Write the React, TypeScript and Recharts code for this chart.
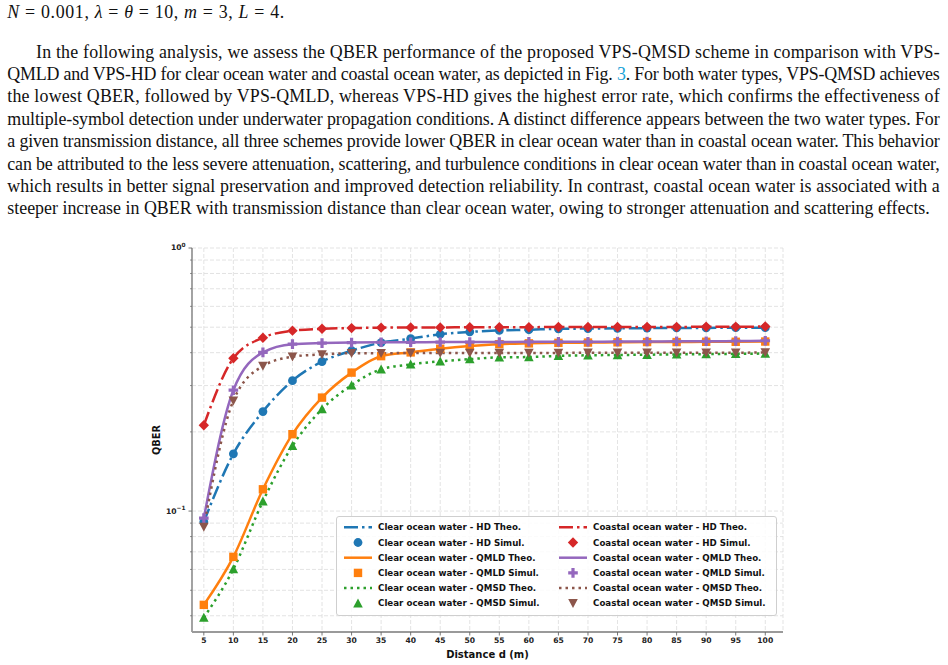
import React from 'react';
import { ComposedChart, Line, XAxis, YAxis, CartesianGrid, Legend } from 'recharts';

// ---------------- data ----------------
const distance = [5, 10, 15, 20, 25, 30, 35, 40, 45, 50, 55, 60, 65, 70, 75, 80, 85, 90, 95, 100];

const clearHD = [0.091, 0.165, 0.239, 0.313, 0.37, 0.407, 0.437, 0.452, 0.47, 0.48, 0.486, 0.489, 0.493, 0.494, 0.495, 0.496, 0.497, 0.497, 0.498, 0.498];
const clearQMLD = [0.044, 0.067, 0.121, 0.196, 0.27, 0.336, 0.388, 0.401, 0.414, 0.424, 0.431, 0.434, 0.436, 0.437, 0.438, 0.439, 0.439, 0.44, 0.44, 0.441];
const clearQMSD = [0.0394, 0.0602, 0.109, 0.177, 0.244, 0.301, 0.346, 0.361, 0.371, 0.378, 0.384, 0.385, 0.389, 0.391, 0.392, 0.393, 0.394, 0.395, 0.396, 0.397];
const coastalHD = [0.212, 0.381, 0.456, 0.485, 0.493, 0.496, 0.498, 0.499, 0.499, 0.5, 0.5, 0.5, 0.501, 0.501, 0.501, 0.501, 0.501, 0.502, 0.502, 0.503];
const coastalQMLD = [0.094, 0.288, 0.401, 0.431, 0.435, 0.437, 0.438, 0.438, 0.439, 0.439, 0.439, 0.44, 0.44, 0.44, 0.441, 0.441, 0.442, 0.442, 0.443, 0.444];
const coastalQMSD = [0.087, 0.263, 0.356, 0.386, 0.394, 0.398, 0.398, 0.399, 0.399, 0.399, 0.399, 0.399, 0.399, 0.4, 0.4, 0.4, 0.4, 0.4, 0.4, 0.401];

const xTicks = [5, 10, 15, 20, 25, 30, 35, 40, 45, 50, 55, 60, 65, 70, 75, 80, 85, 90, 95, 100];
const yTicks = [0.04, 0.05, 0.06, 0.07, 0.08, 0.09, 0.1, 0.2, 0.3, 0.4, 0.5, 0.6, 0.7, 0.8, 0.9, 1];
const yMajor = [
  { value: 0.1, base: '10', exp: '\u22121' },
  { value: 1, base: '10', exp: '0' },
];

const seriesNames = [
  'Clear ocean water - HD',
  'Clear ocean water - QMLD',
  'Clear ocean water - QMSD',
  'Coastal ocean water - HD',
  'Coastal ocean water - QMLD',
  'Coastal ocean water - QMSD',
];
const theoSuffix = ' Theo.';
const simSuffix = ' Simul.';
const xLabel = 'Distance d (m)';
const yLabel = 'QBER';

const paragraphLines = [
  'In the following analysis, we assess the QBER performance of the proposed VPS-QMSD scheme in comparison with VPS-',
  'QMLD and VPS-HD for clear ocean water and coastal ocean water, as depicted in Fig. |3|. For both water types, VPS-QMSD achieves',
  'the lowest QBER, followed by VPS-QMLD, whereas VPS-HD gives the highest error rate, which confirms the effectiveness of',
  'multiple-symbol detection under underwater propagation conditions. A distinct difference appears between the two water types. For',
  'a given transmission distance, all three schemes provide lower QBER in clear ocean water than in coastal ocean water. This behavior',
  'can be attributed to the less severe attenuation, scattering, and turbulence conditions in clear ocean water than in coastal ocean water,',
  'which results in better signal preservation and improved detection reliability. In contrast, coastal ocean water is associated with a',
  'steeper increase in QBER with transmission distance than clear ocean water, owing to stronger attenuation and scattering effects.',
];

// ---------------- styles ----------------
type MarkerKind = 'circle' | 'square' | 'diamond' | 'plus' | 'triUp' | 'triDown';
const DASHDOT = '14 4 2.5 4';
const DOTTED = '2.5 4';
const seriesStyle: { key: string; color: string; dash?: string; marker: MarkerKind }[] = [
  { key: 'clearHD', color: '#1f77b4', dash: DASHDOT, marker: 'circle' },
  { key: 'clearQMLD', color: '#ff7f0e', dash: undefined, marker: 'square' },
  { key: 'clearQMSD', color: '#2ca02c', dash: DOTTED, marker: 'triUp' },
  { key: 'coastalHD', color: '#d62728', dash: DASHDOT, marker: 'diamond' },
  { key: 'coastalQMLD', color: '#9467bd', dash: undefined, marker: 'plus' },
  { key: 'coastalQMSD', color: '#8c564b', dash: DOTTED, marker: 'triDown' },
];

const data = distance.map((d, i) => ({
  d,
  clearHD: clearHD[i],
  clearQMLD: clearQMLD[i],
  clearQMSD: clearQMSD[i],
  coastalHD: coastalHD[i],
  coastalQMLD: coastalQMLD[i],
  coastalQMSD: coastalQMSD[i],
}));

const FONT = "'DejaVu Sans', sans-serif";
const SERIF = "'Liberation Serif', 'Times New Roman', serif";

function markerShape(kind: MarkerKind, cx: number, cy: number, color: string, key?: string) {
  switch (kind) {
    case 'circle':
      return <circle key={key} cx={cx} cy={cy} r={4.4} fill={color} />;
    case 'square':
      return <rect key={key} x={cx - 4.2} y={cy - 4.2} width={8.4} height={8.4} fill={color} />;
    case 'diamond':
      return (
        <polygon key={key} points={`${cx},${cy - 5.2} ${cx + 5.2},${cy} ${cx},${cy + 5.2} ${cx - 5.2},${cy}`} fill={color} />
      );
    case 'plus': {
      const a = 4.8;
      const b = 1.6;
      const d = `M${cx - b},${cy - a}H${cx + b}V${cy - b}H${cx + a}V${cy + b}H${cx + b}V${cy + a}H${cx - b}V${cy + b}H${cx - a}V${cy - b}H${cx - b}Z`;
      return <path key={key} d={d} fill={color} />;
    }
    case 'triUp':
      return <polygon key={key} points={`${cx},${cy - 4.8} ${cx + 4.8},${cy + 4.2} ${cx - 4.8},${cy + 4.2}`} fill={color} />;
    case 'triDown':
    default:
      return <polygon key={key} points={`${cx},${cy + 4.8} ${cx + 4.8},${cy - 4.2} ${cx - 4.8},${cy - 4.2}`} fill={color} />;
  }
}

const YTick = (props: any) => {
  const { x, y, payload } = props;
  const axisX = x + 3.5 + 3;
  const major = yMajor.find((m) => Math.abs(m.value - payload.value) < 1e-9);
  return (
    <g>
      <line x1={axisX - (major ? 3.5 : 2)} x2={axisX} y1={y} y2={y} stroke="#666" strokeWidth={major ? 0.9 : 0.7} />
      {major ? (
        <text x={x} y={y} dy="0.32em" textAnchor="end" fontFamily={FONT} fontWeight="bold" fontSize={7.6} fill="#222">
          <tspan>{major.base}</tspan>
          <tspan dy="-0.55em" fontSize={5.8}>{major.exp}</tspan>
        </text>
      ) : null}
    </g>
  );
};

const renderYLabel = (props: any) => {
  const vb = props.viewBox || { x: 150, y: 248, width: 42, height: 384 };
  const cx = vb.x + 6;
  const cy = vb.y + vb.height / 2;
  return (
    <text x={cx} y={cy} transform={`rotate(-90, ${cx}, ${cy})`} textAnchor="middle" dominantBaseline="central"
      fontFamily={FONT} fontWeight="bold" fontSize={9.8} fill="#111">
      {yLabel}
    </text>
  );
};

const LegendBox = () => {
  const y0 = 11.3;
  const rowH = 15.2;
  const cols = [
    { items: seriesStyle.slice(0, 3), names: seriesNames.slice(0, 3), hx: 8, tx: 42 },
    { items: seriesStyle.slice(3), names: seriesNames.slice(3), hx: 223, tx: 257 },
  ];
  const textProps = { fontFamily: FONT, fontWeight: 'bold' as const, fontSize: 8.7, fill: '#111' };
  return (
    <svg width={441} height={100} style={{ display: 'block' }}>
      <rect x={0.5} y={0.5} width={440} height={99} rx={2.5} fill="#fff" fillOpacity={0.85} stroke="#cfcfcf" />
      {cols.map((c, ci) =>
        c.items.map((s, si) => {
          const yT = y0 + si * 2 * rowH;
          const yS = y0 + (si * 2 + 1) * rowH;
          return (
            <g key={`${ci}-${si}`}>
              <line x1={c.hx} x2={c.hx + 28} y1={yT} y2={yT} stroke={s.color} strokeWidth={2.5} strokeDasharray={s.dash} />
              <text x={c.tx} y={yT} dy="0.35em" {...textProps}>{c.names[si] + theoSuffix}</text>
              {markerShape(s.marker, c.hx + 14, yS, s.color)}
              <text x={c.tx} y={yS} dy="0.35em" {...textProps}>{c.names[si] + simSuffix}</text>
            </g>
          );
        })
      )}
    </svg>
  );
};

const PageText = () => {
  const left = 7.3;
  const right = 939.7;
  const indent = 36;
  const fs = 17.9;
  const base0 = 57.5;
  const step = 22.4;
  return (
    <svg width={948} height={240} style={{ position: 'absolute', left: 0, top: 0 }}>
      <text x={left} y={17.5} fontFamily={SERIF} fontSize={fs} fill="#111" textLength={277} lengthAdjust="spacing">
        <tspan fontStyle="italic">N</tspan>
        {' = 0.001, '}
        <tspan fontStyle="italic">{'\u03bb'}</tspan>
        {' = '}
        <tspan fontStyle="italic">{'\u03b8'}</tspan>
        {' = 10, '}
        <tspan fontStyle="italic">m</tspan>
        {' = 3, '}
        <tspan fontStyle="italic">L</tspan>
        {' = 4.'}
      </text>
      {paragraphLines.map((line, i) => {
        const x = i === 0 ? indent : left;
        const last = i === paragraphLines.length - 1;
        const parts = line.split('|');
        return (
          <text key={i} x={x} y={base0 + i * step} fontFamily={SERIF} fontSize={fs} fill="#111"
            {...(last ? {} : { textLength: right - x, lengthAdjust: 'spacing' })}>
            {parts.map((p, j) => (
              <tspan key={j} fill={j % 2 === 1 ? '#1aa3d9' : '#111'}>{p}</tspan>
            ))}
          </text>
        );
      })}
    </svg>
  );
};

export default function App() {
  return (
    <div style={{ position: 'absolute', left: 0, top: 0, width: 948, height: 665, background: '#fff', overflow: 'hidden' }}>
      <div style={{ position: 'absolute', left: 0, top: 0 }}>
        <ComposedChart width={948} height={665} data={data} margin={{ top: 248, right: 165, bottom: 3, left: 150 }}>
          <CartesianGrid stroke="#dcdcdc" strokeDasharray="4 2" strokeWidth={0.8} />
          <XAxis
            dataKey="d"
            type="number"
            domain={[3, 103]}
            ticks={xTicks}
            interval={0}
            height={30}
            tickSize={3.5}
            tickMargin={2}
            tickLine={{ stroke: '#666', strokeWidth: 0.9 }}
            axisLine={{ stroke: '#9a9a9a', strokeWidth: 1.8 }}
            tick={{ fontSize: 7.6, fontWeight: 'bold', fill: '#222', fontFamily: FONT }}
            label={{ value: xLabel, position: 'insideBottom', offset: 4, fontSize: 10, fontWeight: 'bold', fill: '#111', fontFamily: FONT }}
          />
          <XAxis
            xAxisId="top"
            orientation="top"
            dataKey="d"
            type="number"
            domain={[3, 103]}
            height={0}
            tick={false}
            tickLine={false}
            axisLine={{ stroke: '#9a9a9a', strokeWidth: 1.6 }}
          />
          <YAxis
            scale="log"
            type="number"
            domain={[0.0347, 1]}
            allowDataOverflow
            ticks={yTicks}
            interval={0}
            width={42}
            tickSize={3.5}
            tickMargin={3}
            tickLine={false}
            axisLine={{ stroke: '#9a9a9a', strokeWidth: 1.8 }}
            tick={<YTick />}
            label={renderYLabel}
          />
          <YAxis
            yAxisId="right"
            orientation="right"
            type="number"
            domain={[0, 1]}
            width={0}
            tick={false}
            tickLine={false}
            axisLine={{ stroke: '#9a9a9a', strokeWidth: 1.6 }}
          />
          {seriesStyle.flatMap((s) => [
            <Line
              key={`${s.key}-theo`}
              dataKey={s.key}
              type="monotone"
              stroke={s.color}
              strokeWidth={2.5}
              strokeDasharray={s.dash}
              dot={false}
              activeDot={false}
              isAnimationActive={false}
              legendType="none"
            />,
            <Line
              key={`${s.key}-sim`}
              dataKey={s.key}
              type="linear"
              stroke="none"
              strokeWidth={0}
              dot={(p: any) =>
                p.cx == null || p.cy == null
                  ? <g key={`${s.key}-d${p.index}`} />
                  : markerShape(s.marker, p.cx, p.cy, s.color, `${s.key}-d${p.index}`)
              }
              activeDot={false}
              isAnimationActive={false}
              legendType="none"
            />,
          ])}
          <Legend
            layout="vertical"
            align="center"
            verticalAlign="middle"
            content={() => <LegendBox />}
            wrapperStyle={{ left: 336, top: 516, width: 441, height: 100 }}
          />
        </ComposedChart>
      </div>
      <PageText />
    </div>
  );
}
